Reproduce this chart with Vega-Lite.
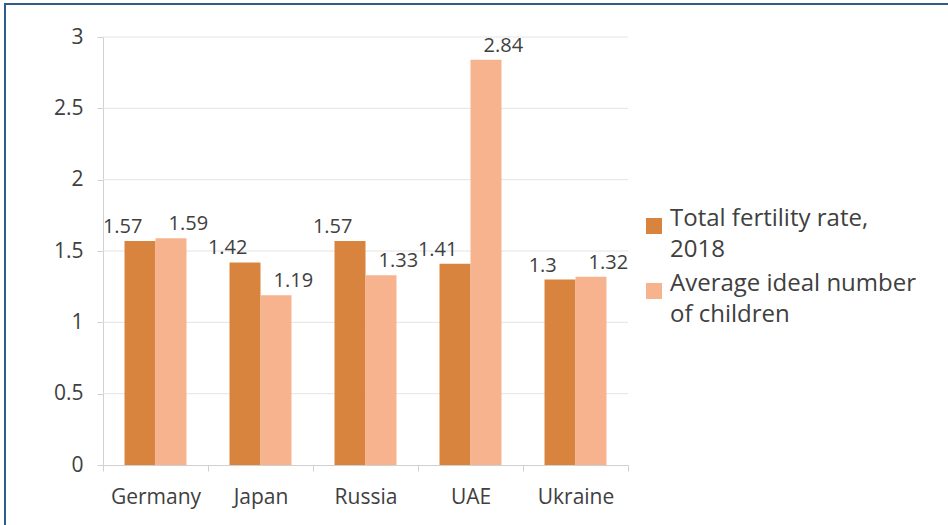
{
  "$schema": "https://vega.github.io/schema/vega-lite/v6.json",
  "width": 1100,
  "height": 700,
  "autosize": {"type": "none"},
  "padding": {"left": 5, "top": 4, "right": 0, "bottom": 0},
  "background": "white",
  "config": {
    "view": {"stroke": "#2E5D8C", "strokeWidth": 2},
    "font": "Open Sans",
    "text": {"font": "Open Sans"}
  },
  "layer": [
    {
      "data": {"values": [{"g": 0.5}, {"g": 1}, {"g": 1.5}, {"g": 2}, {"g": 2.5}, {"g": 3}]},
      "mark": {"type": "rule", "color": "#E4E4E4", "strokeWidth": 1},
      "encoding": {
        "y": {"field": "g", "type": "quantitative", "scale": {"domain": [0, 3], "range": [461, 33]}, "axis": null},
        "x": {"datum": 0, "type": "quantitative", "scale": {"domain": [0, 1], "range": [98, 623]}, "axis": null},
        "x2": {"datum": 1}
      }
    },
    {
      "data": {"values": [
        {"country": "Germany", "series": "Total fertility rate, 2018", "value": 1.57},
        {"country": "Germany", "series": "Average ideal number of children", "value": 1.59},
        {"country": "Japan", "series": "Total fertility rate, 2018", "value": 1.42},
        {"country": "Japan", "series": "Average ideal number of children", "value": 1.19},
        {"country": "Russia", "series": "Total fertility rate, 2018", "value": 1.57},
        {"country": "Russia", "series": "Average ideal number of children", "value": 1.33},
        {"country": "UAE", "series": "Total fertility rate, 2018", "value": 1.41},
        {"country": "UAE", "series": "Average ideal number of children", "value": 2.84},
        {"country": "Ukraine", "series": "Total fertility rate, 2018", "value": 1.3},
        {"country": "Ukraine", "series": "Average ideal number of children", "value": 1.32}
      ]},
      "encoding": {
        "x": {
          "field": "country", "type": "nominal",
          "sort": ["Germany", "Japan", "Russia", "UAE", "Ukraine"],
          "scale": {"range": [98, 623], "paddingInner": 0, "paddingOuter": 0},
          "axis": {
            "orient": "bottom", "offset": -239, "title": null, "labelAngle": 0,
            "tickBand": "extent", "tickSize": 6, "tickColor": "#D0D0D0",
            "domainColor": "#D0D0D0", "grid": false,
            "labelFont": "Open Sans", "labelFontSize": 21, "labelColor": "#404040", "labelPadding": 15
          }
        },
        "y": {
          "field": "value", "type": "quantitative",
          "scale": {"domain": [0, 3], "range": [461, 33]},
          "axis": {
            "orient": "left", "offset": -98, "title": null, "grid": false,
            "values": [0, 0.5, 1, 1.5, 2, 2.5, 3], "format": "~g",
            "tickSize": 6, "tickColor": "#D0D0D0", "domainColor": "#D0D0D0",
            "labelFont": "Open Sans", "labelFontSize": 21, "labelColor": "#404040", "labelPadding": 14
          }
        }
      },
      "layer": [
        {
          "mark": {"type": "bar"},
          "encoding": {
            "xOffset": {
              "field": "series", "type": "nominal",
              "sort": ["Total fertility rate, 2018", "Average ideal number of children"],
              "scale": {"paddingInner": 0, "paddingOuter": 0.694}
            },
            "color": {
              "field": "series", "type": "nominal",
              "scale": {"domain": ["Total fertility rate, 2018", "Average ideal number of children"], "range": ["#D9843E", "#F6B38D"]},
              "legend": {
                "orient": "none", "legendX": 637, "legendY": 210, "title": null,
                "symbolType": "square", "symbolSize": 256, "symbolStrokeWidth": 0,
                "labelFont": "Open Sans", "labelFontSize": 24, "labelColor": "#404040", "labelLimit": 500,
                "labelBaseline": "alphabetic", "labelOffset": 4, "rowPadding": 10, "padding": 0,
                "labelExpr": "datum.label == 'Total fertility rate, 2018' ? ['Total fertility rate,', '2018'] : ['Average ideal number', 'of children']",
                "encode": {"labels": {"update": {"lineHeight": {"value": 31}}}}
              }
            }
          }
        },
        {
          "mark": {"type": "text", "dy": -8, "baseline": "alphabetic", "fontSize": 20, "color": "#404040", "font": "Open Sans"},
          "encoding": {
            "xOffset": {
              "field": "series", "type": "nominal",
              "sort": ["Total fertility rate, 2018", "Average ideal number of children"],
              "scale": {"paddingInner": 0, "paddingOuter": 0.3}
            },
            "text": {"field": "value", "type": "quantitative"}
          }
        }
      ],
      "resolve": {"scale": {"xOffset": "independent"}}
    }
  ],
  "resolve": {"scale": {"x": "independent", "y": "independent"}, "axis": {"x": "independent", "y": "independent"}}
}
